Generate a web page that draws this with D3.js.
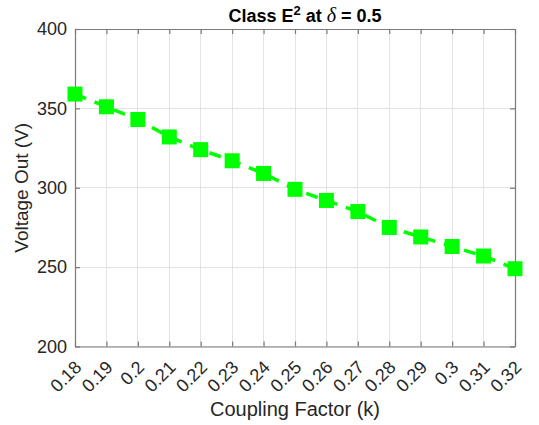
<!DOCTYPE html>
<html><head><meta charset="utf-8">
<script src="https://cdn.jsdelivr.net/npm/d3@7"></script>
<style>
html,body{margin:0;padding:0;background:#fff;}
svg{display:block;font-family:"Liberation Sans",Arial,sans-serif;}
</style></head>
<body><svg id="c" width="539" height="425"></svg>
<script>
const couplingK = [0.18,0.19,0.20,0.21,0.22,0.23,0.24,0.25,0.26,0.27,0.28,0.29,0.30,0.31,0.32];
const voltageOut = [359,351,343,332,324,317,309,299,292,285,275,269,263,257,249];
const xTickLabels = ["0.18","0.19","0.2","0.21","0.22","0.23","0.24","0.25","0.26","0.27","0.28","0.29","0.3","0.31","0.32"];
const yTicks = [200,250,300,350,400];

const svg = d3.select("#c");
const L = 75, R = 515, T = 29, B = 346.5;
const x = d3.scaleLinear().domain([0.18,0.32]).range([L,R]);
const y = d3.scaleLinear().domain([200,400]).range([B,T]);
const axisCol = "#7a7a7a", textCol = "#262626", gridCol = "#e3e3e3";

// grid
svg.append("g").selectAll("line").data(couplingK).join("line")
  .attr("x1",d=>x(d)).attr("x2",d=>x(d)).attr("y1",T).attr("y2",B)
  .attr("stroke",gridCol).attr("stroke-width",1).attr("shape-rendering","crispEdges");
svg.append("g").selectAll("line").data(yTicks).join("line")
  .attr("y1",d=>y(d)).attr("y2",d=>y(d)).attr("x1",L).attr("x2",R)
  .attr("stroke",gridCol).attr("stroke-width",1).attr("shape-rendering","crispEdges");

// axes
const fmtX = (d,i)=>xTickLabels[i];
const xb = svg.append("g").attr("transform",`translate(0,${B})`)
  .call(d3.axisBottom(x).tickValues(couplingK).tickFormat(fmtX).tickSizeInner(-5).tickSizeOuter(0).tickPadding(6));
const xt = svg.append("g").attr("transform",`translate(0,${T})`)
  .call(d3.axisTop(x).tickValues(couplingK).tickFormat("").tickSizeInner(-5).tickSizeOuter(0));
const yl = svg.append("g").attr("transform",`translate(${L},0)`)
  .call(d3.axisLeft(y).tickValues(yTicks).tickSizeInner(-5).tickSizeOuter(0).tickPadding(8));
const yr = svg.append("g").attr("transform",`translate(${R},0)`)
  .call(d3.axisRight(y).tickValues(yTicks).tickFormat("").tickSizeInner(-5).tickSizeOuter(0));
[xb,xt,yl,yr].forEach(g=>{
  g.select(".domain").attr("stroke",axisCol).attr("stroke-width",1.2);
  g.selectAll(".tick line").attr("stroke",axisCol).attr("stroke-width",1.2);
  g.selectAll("text").attr("fill",textCol).attr("font-size",18).attr("font-family","Liberation Sans, Arial, sans-serif");
});
xb.selectAll(".tick text")
  .attr("text-anchor","end").attr("dy","0").attr("y",0)
  .attr("transform","translate(7,22) rotate(-45)");

// series line
const line = d3.line().x((d,i)=>x(couplingK[i])).y(d=>y(d));
svg.append("path").datum(voltageOut).attr("d",line)
  .attr("fill","none").attr("stroke","#00ff00").attr("stroke-width",3.5)
  .attr("stroke-dasharray","12,9");
const ms = 15;
svg.append("g").selectAll("rect").data(voltageOut).join("rect")
  .attr("x",(d,i)=>x(couplingK[i])-ms/2).attr("y",d=>y(d)-ms/2)
  .attr("width",ms).attr("height",ms).attr("fill","#00ff00");

// labels
svg.append("text").attr("x",(L+R)/2).attr("y",416).attr("text-anchor","middle")
  .attr("font-size",20).attr("fill",textCol).text("Coupling Factor (k)");
svg.append("text").attr("transform",`translate(28,${(T+B)/2}) rotate(-90)`).attr("text-anchor","middle")
  .attr("font-size",19).attr("fill",textCol).text("Voltage Out (V)");
const t = svg.append("text").attr("x",(L+R)/2+10).attr("y",22).attr("text-anchor","middle")
  .attr("font-size",18).attr("font-weight","bold").attr("fill","#000");
t.append("tspan").text("Class E");
t.append("tspan").attr("font-size",13).attr("dy",-7).text("2");
t.append("tspan").attr("dy",7).text(" at ");
t.append("tspan").attr("font-family","Liberation Serif, serif").attr("font-style","italic").attr("font-weight","normal").attr("font-size",20).text("δ");
t.append("tspan").text(" = 0.5");
</script></body></html>
